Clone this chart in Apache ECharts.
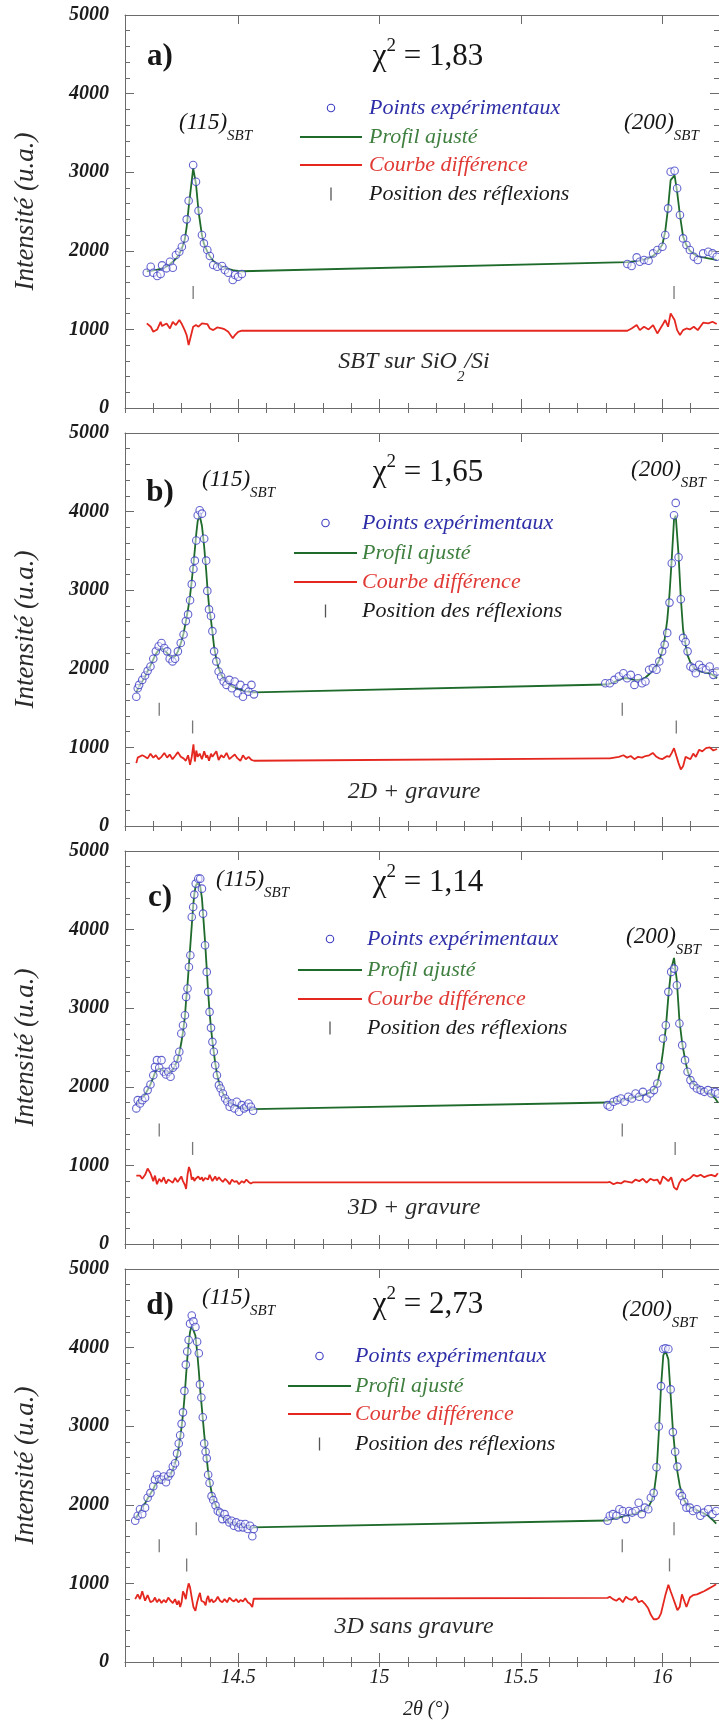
<!DOCTYPE html>
<html><head><meta charset="utf-8">
<script src="https://cdn.jsdelivr.net/npm/echarts@6.0.0/dist/echarts.min.js"></script>
<style>html,body{margin:0;padding:0;background:#fff}#c{width:719px;height:1722px}</style>
</head><body><div id="c"></div><script>
// ---------------- DATA ----------------
const xTickValues = [14.5, 15, 15.5, 16];
const xTickLabels = ['14.5', '15', '15.5', '16'];
const yTickValues = [0, 1000, 2000, 3000, 4000, 5000];
const yTickLabels = ['0', '1000', '2000', '3000', '4000', '5000'];
const panelLetters = ['a)', 'b)', 'c)', 'd)'];
const chiValues = ['1,83', '1,65', '1,14', '2,73'];
const sampleNames = ['SBT sur SiO|2|/Si', '2D + gravure', '3D + gravure', '3D sans gravure'];
const legendNames = ['Points expérimentaux', 'Profil ajusté', 'Courbe différence', 'Position des réflexions'];

// Panel a
const aX1 = [14.177,14.191,14.2,14.214,14.226,14.231,14.247,14.259,14.269,14.28,14.292,14.301,14.311,14.318,14.325,14.341,14.351,14.36,14.372,14.379,14.391,14.4,14.412,14.426,14.443,14.453,14.465,14.481,14.489,14.5,14.513];
const aObs1 = [1721,1797,1721,1679,1705,1815,1777,1861,1785,1946,1988,2052,2158,2400,2637,3091,2879,2510,2201,2095,2010,1934,1819,1797,1806,1755,1721,1628,1692,1670,1705];
const aFit1 = [1740,1745,1750,1760,1770,1775,1800,1830,1860,1900,1960,2030,2140,2300,2550,3050,2850,2500,2200,2090,1990,1930,1870,1830,1800,1785,1770,1755,1750,1745,1740];
const aDif1 = [1076,1034,970,1000,1097,1042,1076,1012,1097,1055,1119,1068,991,928,801,1034,1055,1034,1076,1085,1068,1012,991,1025,1012,1000,970,886,928,970,983];
const aX2 = [15.876,15.891,15.909,15.92,15.935,15.951,15.967,15.982,16.0,16.01,16.02,16.029,16.043,16.052,16.062,16.073,16.085,16.097,16.111,16.125,16.144,16.162,16.177,16.192];
const aObs2 = [1832,1806,1916,1861,1882,1874,1967,2010,2052,2201,2540,3006,3019,2795,2455,2158,2074,2010,1925,1882,1967,1988,1967,1925];
const aFit2 = [1855,1862,1870,1878,1890,1905,1935,1985,2080,2250,2550,2900,2960,2750,2450,2180,2070,2000,1960,1930,1915,1905,1895,1885];
const aDif2 = [983,1012,1055,991,1034,1000,1055,949,1055,1119,1034,1204,1119,991,928,991,1012,1000,1034,991,1085,1076,1097,1068];
const aRefl = [[14.341, 16.041]];
const aReflY = [1470];

// Panel b
const bX1 = [14.14,14.145,14.15,14.161,14.171,14.18,14.19,14.2,14.209,14.219,14.229,14.239,14.249,14.258,14.268,14.277,14.287,14.297,14.307,14.315,14.323,14.33,14.336,14.342,14.347,14.352,14.357,14.364,14.372,14.38,14.387,14.391,14.397,14.404,14.409,14.415,14.423,14.431,14.44,14.449,14.459,14.469,14.478,14.488,14.498,14.508,14.517,14.527,14.537,14.547,14.556];
const bObs1 = [1645,1752,1795,1859,1915,1974,2030,2128,2222,2286,2329,2265,2222,2128,2094,2128,2222,2329,2436,2607,2692,2872,3077,3269,3376,3632,3953,4017,3974,3654,3376,2991,2756,2671,2479,2222,2094,1966,1902,1838,1795,1859,1752,1838,1688,1795,1645,1752,1709,1795,1675];
const bFit1 = [1700,1740,1780,1840,1900,1970,2040,2120,2190,2240,2260,2240,2200,2160,2140,2160,2220,2320,2450,2600,2760,2930,3120,3330,3520,3720,3880,3950,3820,3550,3250,3050,2800,2620,2470,2280,2120,2010,1930,1870,1830,1800,1780,1760,1745,1735,1725,1715,1710,1705,1700];
const bDif1 = [800,870,850,900,880,860,920,870,900,850,880,930,870,910,850,890,940,880,860,830,900,780,880,1040,820,960,880,920,850,950,870,900,830,920,880,860,950,840,900,870,930,850,880,910,860,830,900,850,880,840,830];
const bX2 = [15.798,15.814,15.83,15.846,15.862,15.875,15.888,15.901,15.914,15.928,15.94,15.953,15.966,15.979,15.989,15.999,16.008,16.017,16.025,16.033,16.041,16.047,16.057,16.065,16.073,16.082,16.089,16.099,16.109,16.118,16.13,16.141,16.154,16.167,16.18,16.193];
const bObs2 = [1816,1816,1859,1902,1944,1880,1923,1795,1880,1816,1838,1987,2009,1987,2094,2222,2308,2457,2842,3342,3953,4111,3419,2885,2393,2342,2222,2030,2009,1944,2051,2009,1987,2030,1923,1966];
const bFit2 = [1800,1810,1830,1860,1880,1880,1870,1860,1860,1870,1890,1930,1980,2040,2110,2220,2380,2620,2950,3400,3900,3950,3450,2900,2500,2300,2170,2080,2020,1990,1970,1960,1950,1940,1920,1880];
const bDif2 = [860,860,870,880,900,870,890,850,880,870,890,900,930,880,860,850,870,890,880,930,990,1010,800,720,760,880,900,850,920,880,970,950,990,1000,960,980];
const bRefl = [[14.221, 15.858], [14.339, 16.049]];
const bReflY = [1485, 1260];

// Panel c
const cX1 = [14.14,14.145,14.153,14.161,14.171,14.18,14.19,14.2,14.206,14.213,14.221,14.229,14.237,14.245,14.253,14.261,14.269,14.277,14.286,14.292,14.299,14.305,14.312,14.316,14.321,14.326,14.331,14.336,14.341,14.345,14.35,14.359,14.366,14.372,14.376,14.383,14.389,14.394,14.399,14.404,14.409,14.414,14.419,14.425,14.432,14.438,14.446,14.454,14.462,14.47,14.478,14.487,14.495,14.503,14.513,14.521,14.529,14.537,14.545,14.553];
const cObs1 = [1725,1830,1788,1830,1860,1958,2030,2148,2254,2339,2242,2339,2191,2157,2191,2127,2242,2275,2360,2445,2678,2784,2911,3144,3250,3525,3674,4161,4288,4445,4585,4648,4648,4521,4203,3801,3462,3208,2953,2750,2572,2445,2275,2148,2021,1979,1915,1852,1809,1746,1788,1725,1809,1682,1767,1725,1746,1788,1746,1695];
const cFit1 = [1780,1800,1830,1860,1900,1960,2030,2120,2180,2220,2230,2220,2200,2180,2180,2190,2220,2270,2350,2430,2560,2700,2900,3100,3300,3550,3800,4050,4300,4450,4560,4600,4550,4400,4200,3850,3500,3200,2950,2750,2580,2440,2300,2170,2060,1990,1920,1870,1830,1800,1780,1765,1755,1745,1738,1732,1728,1724,1720,1716];
const cDif1 = [870,850,870,830,880,960,900,800,870,760,830,790,850,770,820,800,780,840,790,820,860,800,750,700,880,980,930,820,850,800,830,860,820,850,800,840,860,820,880,840,800,830,860,810,850,820,790,830,800,760,820,790,800,760,800,780,820,790,770,785];
const cX2 = [15.806,15.814,15.827,15.84,15.853,15.866,15.879,15.892,15.905,15.918,15.931,15.944,15.957,15.97,15.982,15.992,16.002,16.012,16.021,16.031,16.041,16.051,16.06,16.07,16.08,16.089,16.099,16.11,16.122,16.135,16.148,16.161,16.173,16.187,16.196];
const cObs2 = [1767,1746,1809,1830,1852,1809,1873,1852,1915,1873,1936,1852,1915,1958,2042,2254,2614,2784,3208,3462,3504,3292,2805,2530,2339,2191,2085,2021,1979,1958,1936,1958,1915,1936,1915];
const cFit2 = [1800,1805,1810,1820,1830,1840,1850,1860,1870,1880,1895,1910,1930,1970,2040,2200,2450,2750,3150,3500,3640,3350,2850,2550,2350,2200,2100,2040,2000,1970,1950,1930,1900,1850,1800];
const cDif2 = [785,790,760,780,770,800,790,780,820,800,830,780,830,810,820,760,860,830,800,850,720,690,780,830,800,820,840,880,860,880,850,870,880,860,900];
const cRefl = [[14.221, 15.858], [14.339, 16.045]];
const cReflY = [1450, 1216];

// Panel d
const dX1 = [14.136,14.145,14.153,14.161,14.171,14.18,14.19,14.2,14.206,14.213,14.221,14.229,14.237,14.245,14.253,14.261,14.269,14.277,14.284,14.29,14.295,14.3,14.305,14.31,14.315,14.32,14.325,14.33,14.336,14.342,14.349,14.355,14.361,14.365,14.37,14.375,14.38,14.385,14.389,14.394,14.399,14.406,14.412,14.42,14.428,14.436,14.444,14.452,14.461,14.469,14.477,14.485,14.493,14.501,14.509,14.517,14.525,14.534,14.542,14.55,14.555];
const dObs1 = [1797,1860,1943,1881,1964,2090,2152,2236,2320,2382,2328,2320,2361,2286,2361,2403,2487,2529,2654,2779,2884,3030,3176,3449,3783,3950,4096,4305,4409,4334,4263,4075,3929,3532,3365,3114,2779,2675,2591,2382,2278,2110,2060,1993,1922,1901,1818,1881,1818,1776,1797,1734,1776,1713,1755,1713,1755,1692,1734,1600,1692];
const dFit1 = [1820,1870,1920,1970,2020,2080,2140,2200,2250,2280,2300,2310,2320,2330,2350,2390,2450,2530,2620,2730,2850,2990,3150,3350,3600,3850,4050,4200,4280,4270,4150,3950,3700,3500,3300,3100,2900,2720,2580,2420,2300,2160,2080,2000,1940,1890,1850,1820,1800,1785,1770,1760,1750,1742,1736,1730,1725,1720,1716,1712,1710];
const dDif1 = [800,860,800,900,780,850,760,780,820,760,800,750,790,760,820,780,750,800,730,780,700,760,900,860,800,920,1000,950,820,700,650,760,840,880,780,800,760,720,800,840,760,800,760,780,830,780,760,800,760,820,790,770,800,760,790,770,810,760,740,700,805];
const dX2 = [15.806,15.814,15.825,15.837,15.848,15.86,15.871,15.882,15.893,15.905,15.916,15.927,15.938,15.95,15.959,15.969,15.979,15.987,15.995,16.003,16.011,16.021,16.029,16.037,16.045,16.053,16.061,16.069,16.077,16.085,16.097,16.108,16.122,16.134,16.147,16.162,16.177,16.19];
const dObs2 = [1797,1860,1881,1860,1943,1922,1818,1922,1901,1922,2027,1881,1964,1943,2090,2152,2478,2996,3510,3982,3991,3982,3468,2925,2674,2486,2152,2110,2035,1964,1964,1922,1943,1860,1901,1943,1881,1922];
const dFit2 = [1800,1810,1820,1830,1840,1850,1860,1870,1880,1890,1905,1920,1940,1970,2030,2130,2400,2900,3500,3900,3960,3850,3400,2950,2650,2420,2250,2130,2060,2010,1970,1950,1930,1910,1890,1860,1810,1760];
const dDif2 = [816,830,800,780,810,760,830,800,790,830,760,780,740,680,600,544,544,560,620,740,860,983,900,820,740,660,700,860,780,700,820,850,860,880,900,930,960,990];
const dRefl = [[14.221, 15.858], [14.318, 16.025], [14.352, 16.041]];
const dReflY = [1480, 1235, 1695];

// ---------------- STYLE / LAYOUT ----------------
const SERIF = "'Liberation Serif','Times New Roman',serif";
const AX = '#6b6b6b';
const BLUE = '#3c3cc4', GREEN = '#1f6b2c', RED = '#e5281f';
const LEG_COLORS = ['#2e2ea8', '#3f7f3f', '#e03a36', '#1a1a1a'];
const L = {
  left: 125, top: [15, 433, 851, 1269], height: 393,
  letterX: 160, letterDy: [42, 60, 47, 37],
  chiX: 428, chiDy: [42, 40, 32, 36],
  p115X: [179, 202, 216, 202], p115Dy: [108, 47, 29, 29],
  p200X: [624, 631, 626, 622], p200Dy: [108, 37, 86, 41],
  legLine: [[300, 362], [294, 357], [298, 362], [288, 351]],
  legTextX: [369, 362, 367, 355],
  legDy: [[93, 122, 150, 179], [90, 120, 149, 178], [88, 119, 148, 177], [87, 117, 145, 175]],
  sampleX: 414, sampleDy: [347, 359, 357, 358]
};

const panels = [
  {x1: aX1, o1: aObs1, f1: aFit1, d1: aDif1, x2: aX2, o2: aObs2, f2: aFit2, d2: aDif2, refl: aRefl, reflY: aReflY},
  {x1: bX1, o1: bObs1, f1: bFit1, d1: bDif1, x2: bX2, o2: bObs2, f2: bFit2, d2: bDif2, refl: bRefl, reflY: bReflY},
  {x1: cX1, o1: cObs1, f1: cFit1, d1: cDif1, x2: cX2, o2: cObs2, f2: cFit2, d2: cDif2, refl: cRefl, reflY: cReflY},
  {x1: dX1, o1: dObs1, f1: dFit1, d1: dDif1, x2: dX2, o2: dObs2, f2: dFit2, d2: dDif2, refl: dRefl, reflY: dReflY}
];

const zip = (xs, ys) => xs.map((x, i) => [x, ys[i]]);
const ctx = document.createElement('canvas').getContext('2d');
function tw(t, size, style, weight) { ctx.font = `${style || 'normal'} ${weight || 'normal'} ${size}px ${SERIF}`; return ctx.measureText(t).width; }
function runs(items, x0, y, align) {
  const w = items.map(r => tw(r.t, r.size, r.style, r.weight));
  const W = w.reduce((a, b) => a + b, 0);
  let x = align === 'center' ? x0 - W / 2 : x0;
  return items.map((r, i) => {
    const el = {type: 'text', x: x, y: y + (r.dy || 0), silent: true, z: 50,
      style: {text: r.t, fontSize: r.size, fontFamily: SERIF, fontStyle: r.style || 'normal', fontWeight: r.weight || 'normal',
        fill: r.fill || '#161616', textAlign: 'left', textVerticalAlign: 'middle', align: 'left', verticalAlign: 'middle'}};
    x += w[i];
    return el;
  });
}

const grid = [], xAxis = [], yAxis = [], series = [], graphic = [];
const labelFont = {fontFamily: SERIF, fontSize: 20, fontStyle: 'italic', color: '#202020'};

panels.forEach((p, i) => {
  const top = L.top[i];
  const last = i === 3;
  grid.push({left: L.left, right: 0, top: top, height: L.height});
  const line = {show: true, onZero: false, lineStyle: {color: AX, width: 1}};
  const tickStyle = {color: AX, width: 1};
  ['bottom', 'top'].forEach(pos => {
    xAxis.push({gridIndex: i, type: 'value', min: 14.1, max: 16.2, position: pos, axisLine: line, splitLine: {show: false},
      axisTick: {show: true, inside: true, length: 9, customValues: xTickValues, lineStyle: tickStyle},
      axisLabel: {show: last && pos === 'bottom', customValues: xTickValues, margin: 6,
        formatter: v => { const k = xTickValues.findIndex(t => Math.abs(t - v) < 1e-6); return k >= 0 ? xTickLabels[k] : ''; }, ...labelFont},
      name: (last && pos === 'bottom') ? '2θ (°)' : '', nameLocation: 'middle', nameGap: 38,
      nameTextStyle: {fontFamily: SERIF, fontSize: 20, fontStyle: 'italic', color: '#202020', padding: [0, 0, 0, 8]}});
    xAxis.push({gridIndex: i, type: 'value', min: 14.1, max: 16.2, interval: 0.1, position: pos,
      axisLine: {show: false}, splitLine: {show: false}, axisLabel: {show: false},
      axisTick: {show: true, inside: true, length: 5, lineStyle: tickStyle}});
  });
  ['left', 'right'].forEach(pos => {
    yAxis.push({gridIndex: i, type: 'value', min: 0, max: 5000, interval: 1000, position: pos, axisLine: line,
      splitLine: {show: false}, minorSplitLine: {show: false},
      axisTick: {show: true, inside: true, length: 9, lineStyle: tickStyle},
      minorTick: {show: true, splitNumber: 5, length: 5, lineStyle: tickStyle},
      axisLabel: {show: pos === 'left', margin: 16, fontFamily: SERIF, fontSize: 20, fontStyle: 'italic', fontWeight: 'bold', color: '#1c1c1c',
        formatter: v => { const k = yTickValues.indexOf(Math.round(v)); return k >= 0 ? yTickLabels[k] : ''; }},
      name: pos === 'left' ? 'Intensité (u.a.)' : '', nameLocation: 'middle', nameRotate: 90, nameGap: 86,
      nameTextStyle: {fontFamily: SERIF, fontSize: 27, fontStyle: 'italic', color: '#2a2a2a'}});
  });
  const xi = i * 4, yi = i * 2;
  series.push({type: 'line', name: legendNames[1], xAxisIndex: xi, yAxisIndex: yi, data: zip(p.x1, p.f1).concat(zip(p.x2, p.f2)),
    showSymbol: false, symbol: 'none', lineStyle: {color: GREEN, width: 1.8}, z: 2, silent: true});
  series.push({type: 'line', name: legendNames[2], xAxisIndex: xi, yAxisIndex: yi, data: zip(p.x1, p.d1).concat(zip(p.x2, p.d2)),
    showSymbol: false, symbol: 'none', lineStyle: {color: RED, width: 1.8}, z: 2, silent: true});
  series.push({type: 'scatter', name: legendNames[0], xAxisIndex: xi, yAxisIndex: yi, data: zip(p.x1, p.o1).concat(zip(p.x2, p.o2)),
    symbol: 'circle', symbolSize: 7.5, itemStyle: {color: 'rgba(255,255,255,0.6)', borderColor: BLUE, borderWidth: 1.1}, z: 3, silent: true});
  p.refl.forEach((row, r) => {
    series.push({type: 'scatter', name: legendNames[3], xAxisIndex: xi, yAxisIndex: yi, data: row.map(x => [x, p.reflY[r]]),
      symbol: 'rect', symbolSize: [1.3, 13], itemStyle: {color: '#555'}, z: 3, silent: true});
  });

  // annotations
  graphic.push(...runs([{t: panelLetters[i], size: 31, weight: 'bold'}], L.letterX, top + L.letterDy[i], 'center'));
  graphic.push(...runs([{t: 'χ', size: 31}, {t: '2', size: 19, dy: -11}, {t: ' = ' + chiValues[i], size: 31}], L.chiX, top + L.chiDy[i], 'center'));
  graphic.push(...runs([{t: '(115)', size: 23, style: 'italic'}, {t: 'SBT', size: 15, style: 'italic', dy: 13}], L.p115X[i], top + L.p115Dy[i]));
  graphic.push(...runs([{t: '(200)', size: 23, style: 'italic'}, {t: 'SBT', size: 15, style: 'italic', dy: 13}], L.p200X[i], top + L.p200Dy[i]));
  const parts = sampleNames[i].split('|');
  const sRuns = parts.map((t, k) => k % 2 === 1 ? {t, size: 15, style: 'italic', dy: 15, fill: '#2a2a2a'} : {t, size: 24, style: 'italic', fill: '#2a2a2a'});
  graphic.push(...runs(sRuns, L.sampleX, top + L.sampleDy[i], 'center'));

  // legend
  const [lx1, lx2] = L.legLine[i];
  const cx = (lx1 + lx2) / 2;
  const ly = L.legDy[i].map(d => top + d);
  graphic.push({type: 'circle', shape: {cx: cx, cy: ly[0], r: 3.7}, style: {fill: '#fff', stroke: BLUE, lineWidth: 1.1}, silent: true, z: 50});
  graphic.push({type: 'line', shape: {x1: lx1, y1: ly[1], x2: lx2, y2: ly[1]}, style: {stroke: GREEN, lineWidth: 2}, silent: true, z: 50});
  graphic.push({type: 'line', shape: {x1: lx1, y1: ly[2], x2: lx2, y2: ly[2]}, style: {stroke: RED, lineWidth: 2}, silent: true, z: 50});
  graphic.push({type: 'rect', shape: {x: cx - 0.65, y: ly[3] - 6.5, width: 1.3, height: 13}, style: {fill: '#555'}, silent: true, z: 50});
  legendNames.forEach((n, k) => {
    graphic.push(...runs([{t: n, size: 22, style: 'italic', fill: LEG_COLORS[k]}], L.legTextX[i], ly[k]));
  });
});

const chart = echarts.init(document.getElementById('c'), null, {renderer: 'canvas'});
chart.setOption({animation: false, backgroundColor: '#fff', grid, xAxis, yAxis, series, graphic});
</script></body></html>
